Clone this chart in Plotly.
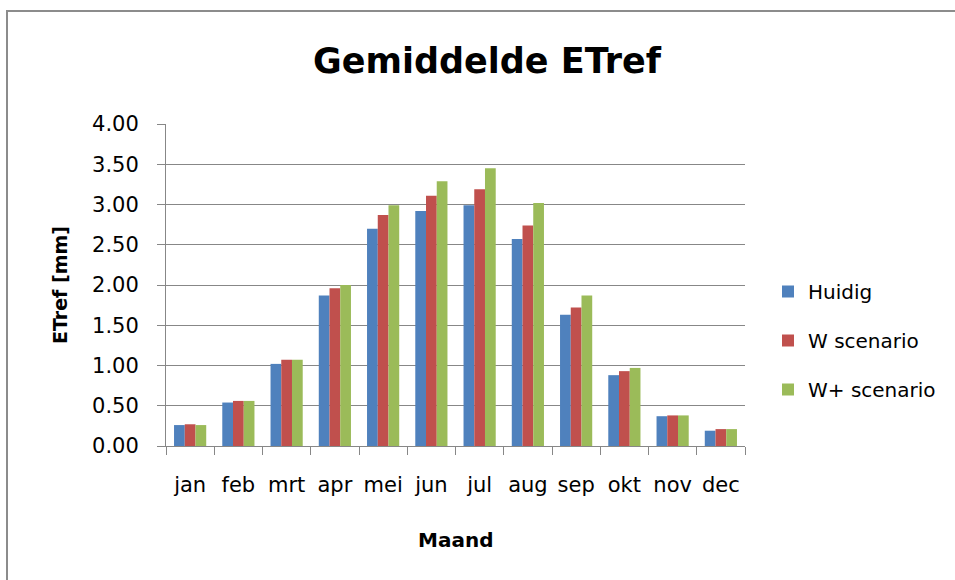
import plotly.graph_objects as go

months = ["jan", "feb", "mrt", "apr", "mei", "jun", "jul", "aug", "sep", "okt", "nov", "dec"]
huidig = [0.26, 0.54, 1.02, 1.87, 2.70, 2.92, 2.99, 2.57, 1.63, 0.88, 0.37, 0.19]
w_scen = [0.27, 0.56, 1.07, 1.96, 2.87, 3.11, 3.19, 2.74, 1.72, 0.93, 0.38, 0.21]
wplus_scen = [0.26, 0.56, 1.07, 2.00, 2.99, 3.29, 3.45, 3.02, 1.87, 0.97, 0.38, 0.21]
series_names = ["Huidig", "W scenario", "W+ scenario"]
colors = ["#4F81BD", "#C0504D", "#9BBB59"]
yticks = [0.0, 0.5, 1.0, 1.5, 2.0, 2.5, 3.0, 3.5, 4.0]

FONT = "DejaVu Sans"
GRID = "#878787"

fig = go.Figure()
for i, (name, vals) in enumerate(zip(series_names, [huidig, w_scen, wplus_scen])):
    fig.add_trace(go.Bar(x=months, y=vals, name=name, marker_color=colors[i],
                         marker_line_width=0, legendgroup=name))

W, H = 955, 580
L, R, T, B = 166, 745, 124, 446
fig.update_layout(
    width=W, height=H,
    margin=dict(l=L, r=W - R, t=T, b=H - B, autoexpand=False),
    paper_bgcolor="white", plot_bgcolor="white",
    barmode="group", bargap=0.333, bargroupgap=0,
    font=dict(family=FONT, color="#000000", size=21),
    title=dict(text="<b>Gemiddelde ETref</b>", x=487 / W, xanchor="center",
               y=1 - 61 / H, yanchor="middle", xref="container", yref="container",
               font=dict(family=FONT, size=35, color="#000000")),
    legend=dict(x=(768 - L) / (R - L), xanchor="left", y=(B - 272) / (B - T), yanchor="top",
                font=dict(family=FONT, size=20), traceorder="grouped", tracegroupgap=20,
                bgcolor="rgba(0,0,0,0)"),
    showlegend=True,
)
fig.update_yaxes(range=[0, 4], tickvals=yticks, tickformat=".2f",
                 showgrid=True, gridcolor=GRID, gridwidth=1,
                 showline=True, linecolor=GRID, linewidth=1,
                 ticks="outside", ticklen=8, tickcolor=GRID,
                 ticklabelstandoff=14, zeroline=False, fixedrange=True,
                 tickfont=dict(size=21))
fig.update_xaxes(showline=True, linecolor=GRID, linewidth=1,
                 ticks="outside", ticklen=8, tickcolor=GRID, tickson="boundaries",
                 ticklabelstandoff=20, showgrid=False, fixedrange=True,
                 tickangle=0, tickfont=dict(size=21))

fig.add_annotation(text="<b>ETref [mm]</b>", x=(60 - L) / (R - L), y=(B - 285) / (B - T),
                   xref="paper", yref="paper", xanchor="center", yanchor="middle",
                   showarrow=False, textangle=-90, font=dict(family=FONT, size=19))
fig.add_annotation(text="<b>Maand</b>", x=(455 - L) / (R - L), y=(B - 540) / (B - T),
                   xref="paper", yref="paper", xanchor="center", yanchor="middle",
                   showarrow=False, font=dict(family=FONT, size=20))

fig.add_shape(type="rect", xref="paper", yref="paper",
              x0=(7 - L) / (R - L), x1=(1000 - L) / (R - L),
              y0=(B - 700) / (B - T), y1=(B - 11) / (B - T),
              line=dict(color="#8C8C8C", width=2), fillcolor="rgba(0,0,0,0)", layer="below")

fig.write_html("out.html", config={"displayModeBar": False},
               post_script="document.body.style.margin='0';document.body.style.overflow='hidden';")
